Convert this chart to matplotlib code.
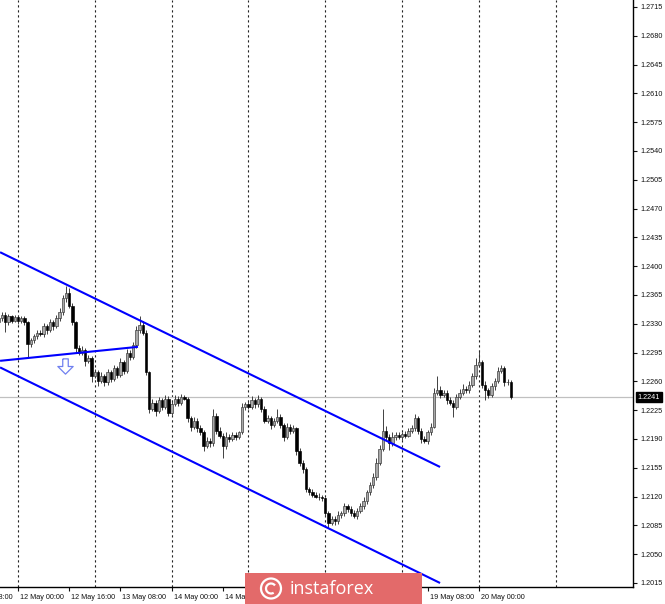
## GBP/USD H1 chart with descending channel (MT4 style screenshot)
import numpy as np
import matplotlib
matplotlib.use("Agg")
import matplotlib.pyplot as plt
import matplotlib.transforms as mtrans
from matplotlib.path import Path
from matplotlib.patches import Rectangle, Ellipse, Arc

plt.rcParams['font.family'] = ['Liberation Sans', 'DejaVu Sans']

# bar index 0 = 12 May 00:00, one bar per hour, weekend skipped
first_bar = -6
closes = [1.2337, 1.2341, 1.2332, 1.2339, 1.2334, 1.2338,
          1.2333, 1.2337, 1.2332, 1.2306, 1.2310, 1.2315, 1.2319, 1.2317, 1.2327, 1.2322,
          1.2332, 1.2327, 1.2337, 1.2344, 1.2361, 1.2368, 1.2352, 1.2332, 1.2300, 1.2295,
          1.2298, 1.2285, 1.2288, 1.2267, 1.2271, 1.2261, 1.2266, 1.2259, 1.2271, 1.2263,
          1.2276, 1.2268, 1.2283, 1.2273, 1.2295, 1.2290, 1.2304, 1.2322, 1.2329, 1.2319,
          1.2271, 1.2227, 1.2234, 1.2224, 1.2237, 1.2229, 1.2239, 1.2222, 1.2232, 1.2239,
          1.2234, 1.2241, 1.2239, 1.2215, 1.2205, 1.2212, 1.2203, 1.2198, 1.2182, 1.2188,
          1.2185, 1.2218, 1.2200, 1.2194, 1.2181, 1.2193, 1.2190, 1.2195, 1.2193, 1.2198,
          1.2229, 1.2232, 1.2229, 1.2237, 1.2232, 1.2239, 1.2227, 1.2212, 1.2215, 1.2207,
          1.2212, 1.2217, 1.2207, 1.2193, 1.2205, 1.2200, 1.2203, 1.2176, 1.2161, 1.2154,
          1.2129, 1.2125, 1.2122, 1.2120, 1.2119, 1.2118, 1.2100, 1.2088, 1.2093, 1.2090,
          1.2098, 1.2100, 1.2108, 1.2105, 1.2100, 1.2097, 1.2103, 1.2108, 1.2115, 1.2125,
          1.2134, 1.2144, 1.2161, 1.2178, 1.2200, 1.2193, 1.2185, 1.2193, 1.2195, 1.2193,
          1.2196, 1.2194, 1.2200, 1.2203, 1.2215, 1.2200, 1.2190, 1.2188, 1.2198, 1.2205,
          1.2246, 1.2249, 1.2244, 1.2246, 1.2237, 1.2234, 1.2229, 1.2241, 1.2246, 1.2251,
          1.2249, 1.2256, 1.2266, 1.2280, 1.2283, 1.2256, 1.2249, 1.2244, 1.2254, 1.2261,
          1.2273, 1.2276, 1.2259, 1.2259, 1.2241]
first_open = 1.2332
# wick lengths in pips above / below the body
upper_wick = [4, 3, 3, 3, 2, 3,
              2, 3, 2, 2, 3, 2, 4, 3, 4, 3,
              4, 3, 4, 5, 4, 8, 6, 3, 2, 4,
              5, 3, 4, 3, 4, 3, 5, 3, 4, 3,
              4, 3, 5, 3, 4, 3, 4, 5, 10, 4,
              3, 2, 4, 3, 4, 3, 5, 3, 4, 5,
              3, 4, 3, 2, 3, 5, 3, 4, 3, 4,
              3, 8, 3, 4, 3, 5, 3, 4, 3, 2,
              5, 3, 4, 5, 3, 4, 2, 3, 4, 3,
              4, 10, 3, 2, 4, 3, 4, 2, 3, 3,
              2, 3, 4, 3, 4, 3, 2, 3, 4, 3,
              5, 3, 4, 3, 3, 4, 3, 4, 5, 3,
              4, 5, 6, 5, 27, 6, 3, 5, 3, 4,
              3, 4, 3, 4, 5, 3, 3, 4, 3, 4,
              6, 18, 5, 4, 3, 4, 3, 4, 5, 6,
              4, 5, 4, 8, 14, 3, 4, 3, 4, 3,
              5, 4, 3, 4, 3]
lower_wick = [3, 3, 12, 4, 3, 2,
              3, 2, 3, 16, 4, 3, 3, 2, 3, 5,
              2, 4, 2, 3, 3, 4, 3, 4, 5, 3,
              3, 6, 3, 8, 3, 6, 3, 4, 3, 4,
              3, 4, 3, 4, 3, 4, 3, 3, 3, 3,
              3, 6, 3, 6, 3, 4, 3, 4, 3, 2,
              4, 3, 2, 4, 5, 3, 4, 3, 6, 3,
              5, 3, 4, 3, 14, 3, 4, 3, 4, 3,
              2, 4, 3, 3, 4, 3, 4, 3, 3, 5,
              3, 3, 4, 5, 3, 4, 3, 5, 4, 5,
              4, 3, 3, 2, 3, 3, 4, 6, 3, 4,
              3, 4, 3, 4, 3, 3, 4, 3, 3, 4,
              3, 3, 4, 3, 3, 4, 8, 3, 4, 3,
              4, 3, 2, 3, 3, 4, 5, 3, 4, 3,
              2, 3, 4, 3, 5, 3, 12, 3, 3, 3,
              3, 3, 3, 3, 3, 4, 12, 4, 3, 4,
              3, 3, 4, 3, 2]
last_price = 1.2241

# x labels every 16 bars (those hidden under the watermark left out), day separators every 24 bars
label_bars = [0, 16, 32, 48, 64, 128, 144]
label_text = ["12 May 00:00", "12 May 16:00", "13 May 08:00",
              "14 May 00:00", "14 May 16:00", "19 May 08:00", "20 May 00:00"]
cut_label = (-16, "11 May 08:00")   # only its tail is visible at the left edge
day_bars = [0, 24, 48, 72, 96, 120, 144, 168]
price_ticks = [1.2015, 1.2050, 1.2085, 1.2120, 1.2155, 1.2190, 1.2225, 1.2260,
               1.2295, 1.2330, 1.2365, 1.2400, 1.2435, 1.2470, 1.2505, 1.2540,
               1.2575, 1.2610, 1.2645, 1.2680, 1.2715]

# trend lines (bar, price)
channel_top = ([-5.6, 131.9], [1.2417, 1.2156])
channel_bottom = ([-5.6, 131.9], [1.2277, 1.2015])
rising_line = ([-5.6, 37.5], [1.2285, 1.2302])
arrow_pos = (14.7, 1.2279)

c = np.array(closes)
o = np.concatenate([[first_open], c[:-1]])
hi = np.maximum(o, c) + np.array(upper_wick) * 0.0001
lo = np.minimum(o, c) - np.array(lower_wick) * 0.0001
x = np.arange(first_bar, first_bar + len(c))
up = c >= o

fig = plt.figure(figsize=(6.65, 6.04), dpi=100)
ax = fig.add_axes([0, 0.0281, 0.9519, 0.9719])

# day separators
for b in day_bars:
    ax.axvline(b, color='#222222', lw=0.8, ls=(0, (2, 2.5)), zorder=1)

# current price line
ax.axhline(last_price, color='#c0c0c0', lw=0.9, zorder=1)

# candles
ax.vlines(x, lo, hi, color='#333333', lw=0.65, zorder=2)
body = np.maximum(np.abs(c - o), 0.00005)
bottom = np.minimum(o, c)
ax.bar(x[up], body[up], bottom=bottom[up], width=0.7, color='#a8a8a8',
       edgecolor='#333333', linewidth=0.45, zorder=3)
ax.bar(x[~up], body[~up], bottom=bottom[~up], width=0.7, color='black',
       edgecolor='black', linewidth=0.45, zorder=3)

# blue lines
for xs, ys in [channel_top, channel_bottom, rising_line]:
    ax.plot(xs, ys, color='#0000ff', lw=1.5, zorder=4, solid_capstyle='butt')

# hollow down arrow
arrow = Path([(-0.18, 0.5), (0.18, 0.5), (0.18, 0.0), (0.5, 0.0), (0.0, -0.5),
              (-0.5, 0.0), (-0.18, 0.0), (-0.18, 0.5)])
ax.plot(*arrow_pos, marker=arrow, markersize=11, markerfacecolor='white',
        markeredgecolor='#7080f0', markeredgewidth=0.9, zorder=5)

# axes look
for s in ['top', 'left']:
    ax.spines[s].set_visible(False)
ax.spines['right'].set_linewidth(1.0)
ax.spines['bottom'].set_linewidth(1.0)
ax.yaxis.tick_right()
ax.set_yticks(price_ticks)
ax.set_yticklabels(['%.4f' % p for p in price_ticks])
ax.set_xticks(label_bars)
ax.set_xticklabels(label_text)
ax.tick_params(axis='both', length=3, width=0.8, labelsize=5.2, colors='#111111', pad=2)
offset = mtrans.ScaledTranslation(2 / 100, 0, fig.dpi_scale_trans)
for lab in ax.get_xticklabels():
    lab.set_ha('left')
    lab.set_transform(lab.get_transform() + offset)

# limits after the ticks, so the ticks do not widen the view
ax.set_xlim(-5.625, 192.2)
ax.set_ylim(1.20101, 1.27235)

# label of the tick left of the view
cut_offset = mtrans.ScaledTranslation(2 / 100, -5 / 72, fig.dpi_scale_trans)
ax.text(cut_label[0], 0, cut_label[1], transform=ax.get_xaxis_transform() + cut_offset,
        ha='left', va='top', fontsize=5.2, color='#111111', clip_on=False)

# price label on the axis
ax.text(1.007, last_price, '%.4f' % last_price, transform=ax.get_yaxis_transform(),
        color='white', fontsize=5.2, va='center', ha='left', zorder=6, clip_on=False,
        bbox=dict(boxstyle='square,pad=0.25', facecolor='black', edgecolor='black'))

# watermark
fig.patches.append(Rectangle((245 / 665, 0), 177 / 665, 31 / 604, transform=fig.transFigure,
                             facecolor='#e36a6a', edgecolor='none', zorder=10))
fig.patches.append(Ellipse((271 / 665, 15.5 / 604), 20 / 665, 20 / 604, transform=fig.transFigure,
                           facecolor='none', edgecolor='white', lw=1.6, zorder=11))
fig.patches.append(Arc((271 / 665, 15.5 / 604), 10 / 665, 10 / 604, theta1=40, theta2=300,
                       transform=fig.transFigure, edgecolor='white', lw=1.6, zorder=11))
fig.text(332 / 665, 9.5 / 604, 'instaforex', color='white', fontsize=13, ha='center',
         va='baseline', family=['Open Sans', 'DejaVu Sans'], zorder=12)

plt.savefig('out.png', dpi=100)
